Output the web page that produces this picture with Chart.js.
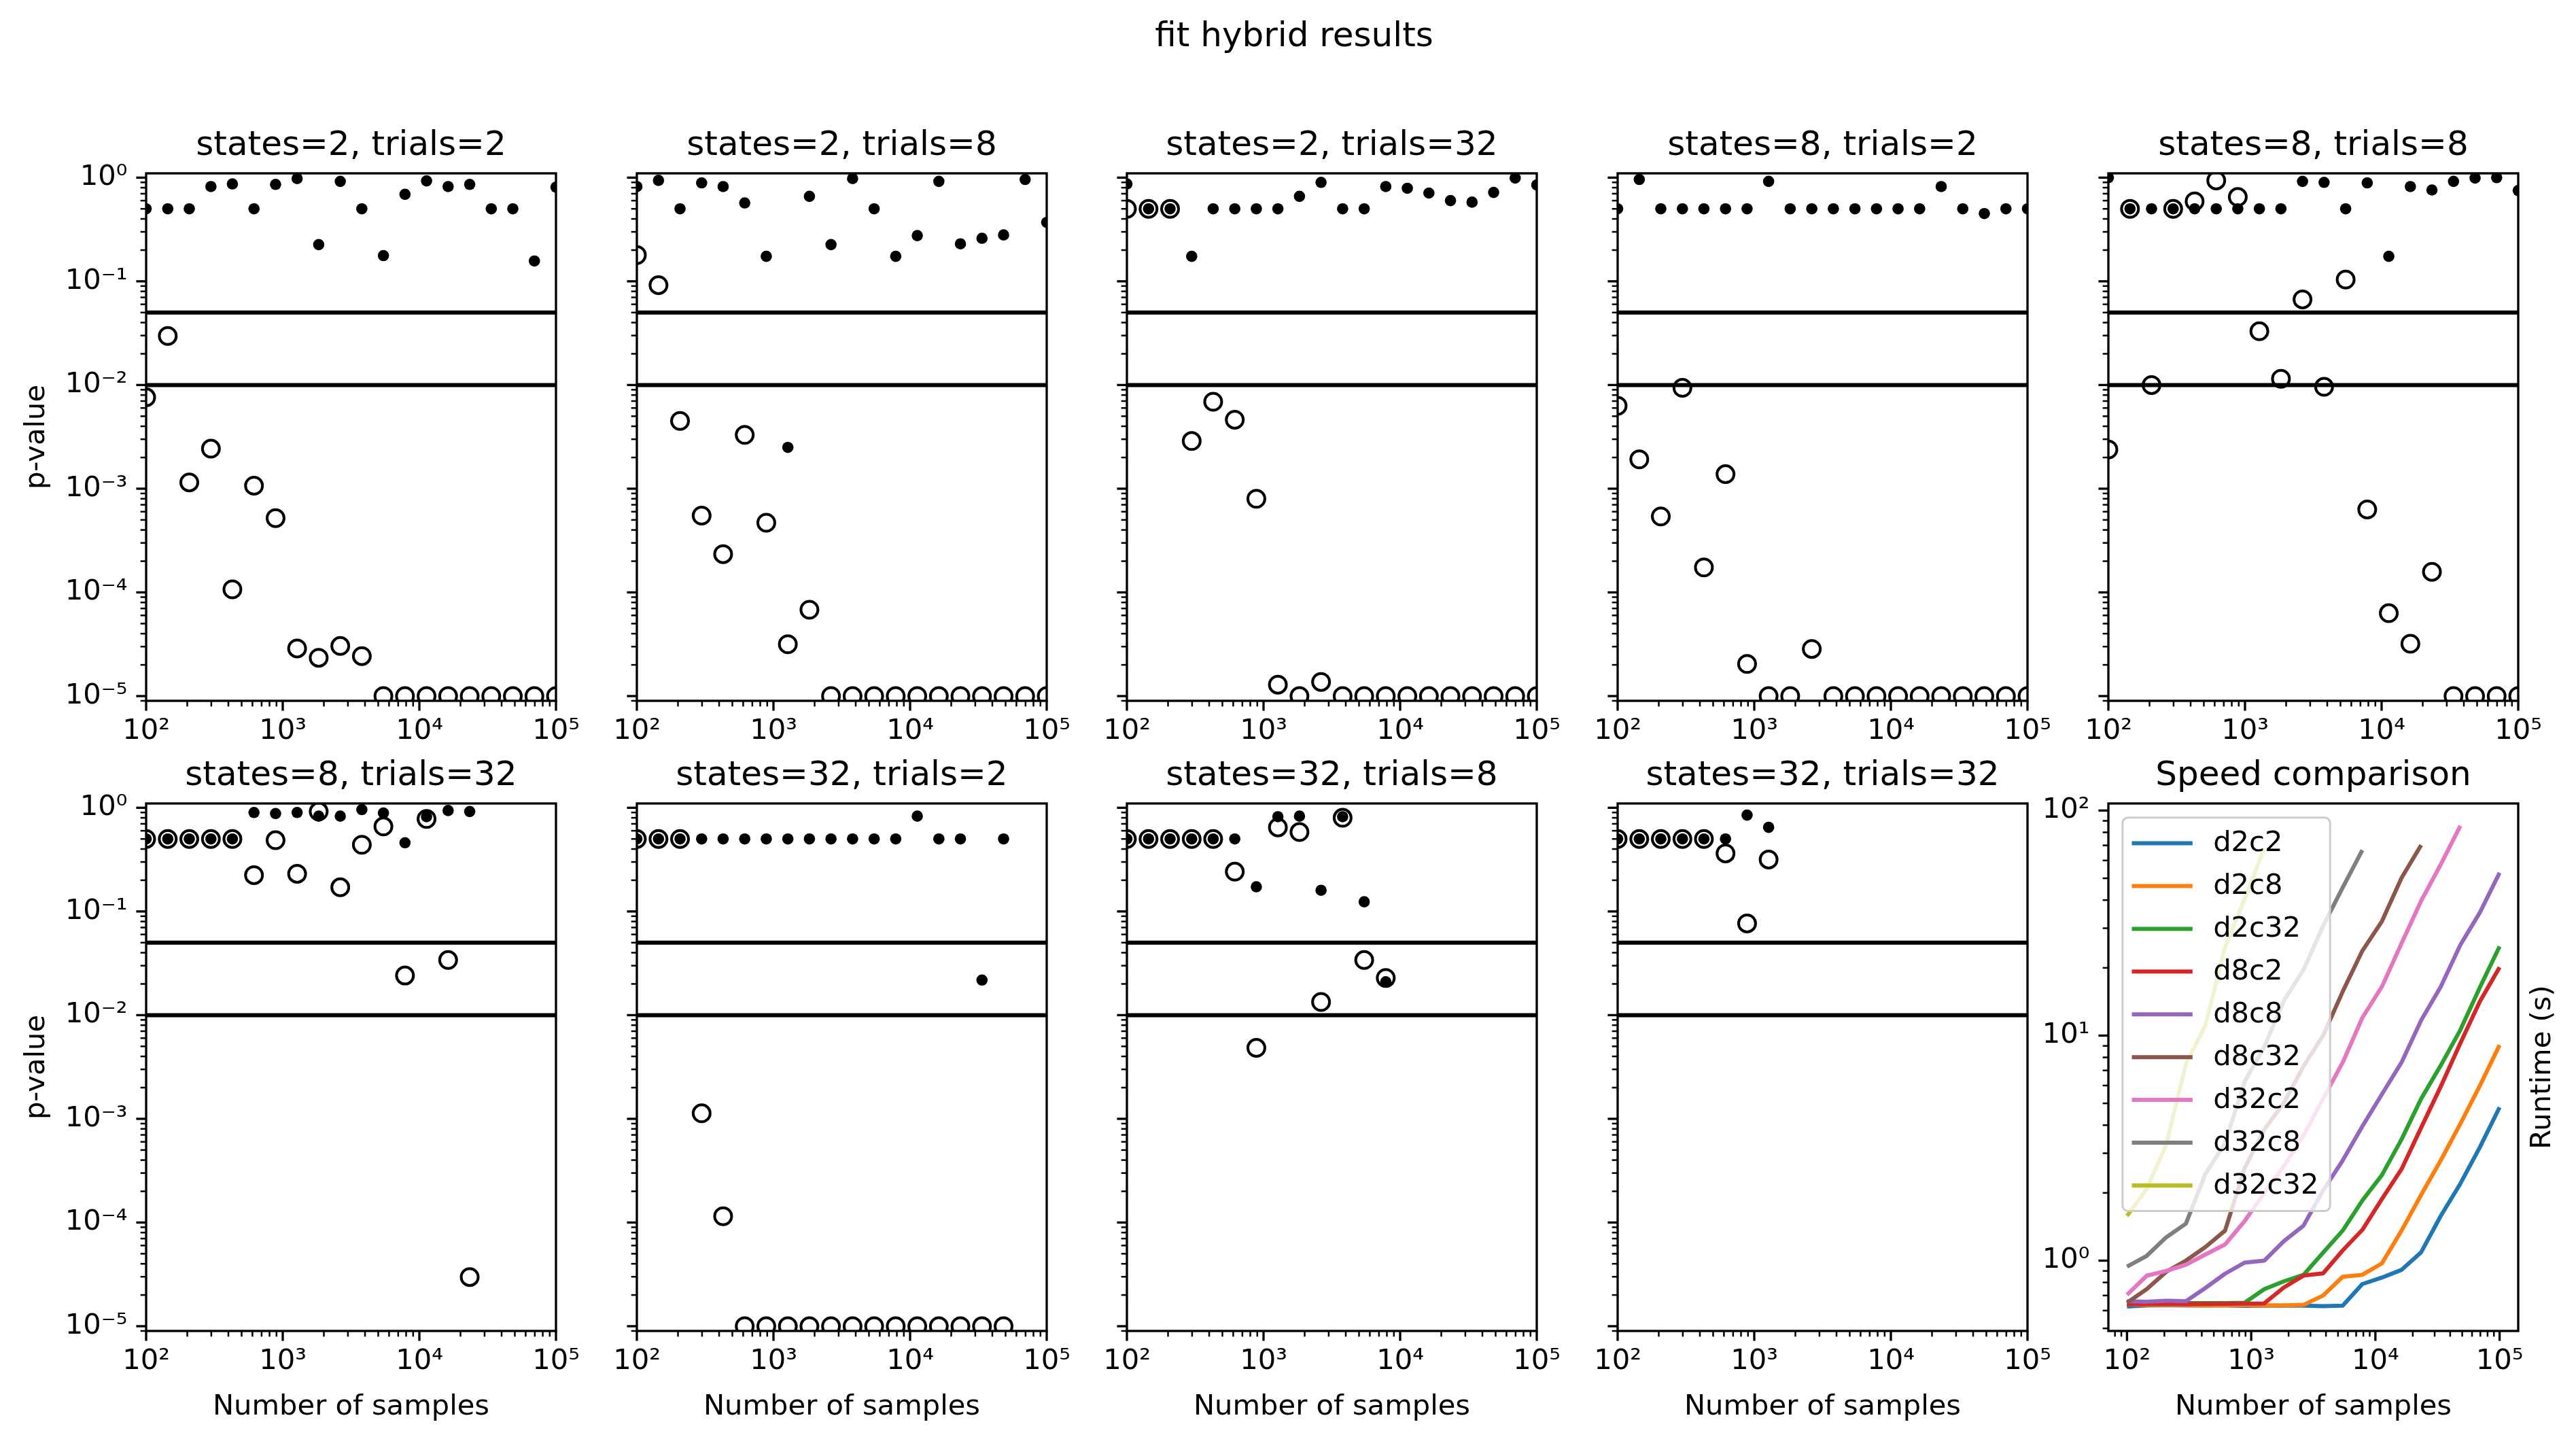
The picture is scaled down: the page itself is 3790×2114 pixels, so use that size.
<!DOCTYPE html>
<html>
<head>
<meta charset="utf-8">
<title>fit hybrid results</title>
<script src="https://cdn.jsdelivr.net/npm/chart.js"></script>
<style>
  html, body { margin: 0; padding: 0; background: #fff; }
  #figure { position: relative; width: 3790px; height: 2114px; overflow: hidden; background: #fff; }
  #figure canvas { position: absolute; }
  #suptitle { position: absolute; left: 1904px; top: 26px; transform: translateX(-50%);
              font: 50px/1 'DejaVu Sans', sans-serif; color: #000; white-space: nowrap; }
</style>
</head>
<body>
<div id="figure">
  <div id="suptitle">fit hybrid results</div>
</div>
<script>
// sample sizes shared by every panel
const samples = [100, 144, 207, 298, 428, 616, 886, 1274, 1833, 2637, 3793, 5456, 7848, 11288, 16238, 23357, 33598, 48329, 69519, 100000];
const sampleRange = [100, 100000];
const thresholds = [0.05, 0.01];

const pTicks = [1e-5, 1e-4, 1e-3, 1e-2, 1e-1, 1];
const pTickLabels = ['10⁻⁵', '10⁻⁴', '10⁻³', '10⁻²', '10⁻¹', '10⁰'];
const sampleTicks = [1e2, 1e3, 1e4, 1e5];
const sampleTickLabels = ['10²', '10³', '10⁴', '10⁵'];
const runtimeTicks = [1, 10, 100];
const runtimeTickLabels = ['10⁰', '10¹', '10²'];

const panelTitles = ['states=2, trials=2', 'states=2, trials=8', 'states=2, trials=32', 'states=8, trials=2', 'states=8, trials=8',
                     'states=8, trials=32', 'states=32, trials=2', 'states=32, trials=8', 'states=32, trials=32'];

// filled dots and open rings: p-values of the two tests
const dots_s2_t2 = [0.50, 0.50, 0.50, 0.82, 0.87, 0.50, 0.86, 0.98, 0.226, 0.92, 0.50, 0.177, 0.69, 0.93, 0.82, 0.86, 0.50, 0.50, 0.157, 0.81];
const rings_s2_t2 = [0.0076, 0.0297, 0.00115, 0.00243, 0.000107, 0.00107, 0.00052, 2.88e-5, 2.34e-5, 3.04e-5, 2.43e-5, 1e-5, 1e-5, 1e-5, 1e-5, 1e-5, 1e-5, 1e-5, 1e-5, 1e-5];

const dots_s2_t8 = [0.82, 0.94, 0.50, 0.89, 0.82, 0.57, 0.174, 0.0025, 0.66, 0.226, 0.98, 0.50, 0.174, 0.276, 0.92, 0.23, 0.26, 0.28, 0.96, 0.37];
const rings_s2_t8 = [0.179, 0.092, 0.0045, 0.00055, 0.000234, 0.0033, 0.00047, 3.16e-5, 6.8e-5, 1e-5, 1e-5, 1e-5, 1e-5, 1e-5, 1e-5, 1e-5, 1e-5, 1e-5, 1e-5, 1e-5];

const dots_s2_t32 = [0.87, 0.50, 0.50, 0.174, 0.50, 0.50, 0.50, 0.50, 0.66, 0.90, 0.50, 0.50, 0.82, 0.79, 0.71, 0.60, 0.58, 0.72, 0.99, 0.85];
const rings_s2_t32 = [0.50, 0.50, 0.50, 0.00288, 0.0069, 0.00463, 0.0008, 1.29e-5, 1e-5, 1.37e-5, 1e-5, 1e-5, 1e-5, 1e-5, 1e-5, 1e-5, 1e-5, 1e-5, 1e-5, 1e-5];

const dots_s8_t2 = [0.50, 0.96, 0.50, 0.50, 0.50, 0.50, 0.50, 0.92, 0.50, 0.50, 0.50, 0.50, 0.50, 0.50, 0.50, 0.82, 0.50, 0.45, 0.50, 0.50];
const rings_s8_t2 = [0.0063, 0.00192, 0.00054, 0.0094, 0.000174, 0.00138, 2.04e-5, 1e-5, 1e-5, 2.85e-5, 1e-5, 1e-5, 1e-5, 1e-5, 1e-5, 1e-5, 1e-5, 1e-5, 1e-5, 1e-5];

const dots_s8_t8 = [1.0, 0.50, 0.50, 0.50, 0.50, 0.50, 0.50, 0.50, 0.50, 0.92, 0.90, 0.50, 0.89, 0.174, 0.82, 0.76, 0.92, 0.99, 1.0, 0.75];
const rings_s8_t8 = [0.00239, 0.50, 0.0100, 0.50, 0.59, 0.94, 0.65, 0.033, 0.0115, 0.067, 0.0096, 0.104, 0.00063, 6.3e-5, 3.2e-5, 0.000158, 1e-5, 1e-5, 1e-5, 1e-5];

const dots_s8_t32 = [0.50, 0.50, 0.50, 0.50, 0.50, 0.90, 0.88, 0.90, 0.83, 0.83, 0.96, 0.89, 0.46, 0.82, 0.94, 0.92];
const rings_s8_t32 = [0.50, 0.50, 0.50, 0.50, 0.50, 0.224, 0.486, 0.231, 0.92, 0.171, 0.44, 0.66, 0.0241, 0.78, 0.034, 2.98e-5];

const dots_s32_t2 = [0.50, 0.50, 0.50, 0.50, 0.50, 0.50, 0.50, 0.50, 0.50, 0.50, 0.50, 0.50, 0.50, 0.83, 0.50, 0.50, 0.0218, 0.50];
const rings_s32_t2 = [0.50, 0.50, 0.50, 0.00113, 0.000115, 1e-5, 1e-5, 1e-5, 1e-5, 1e-5, 1e-5, 1e-5, 1e-5, 1e-5, 1e-5, 1e-5, 1e-5, 1e-5];

const dots_s32_t8 = [0.50, 0.50, 0.50, 0.50, 0.50, 0.50, 0.173, 0.82, 0.83, 0.16, 0.82, 0.124, 0.021];
const rings_s32_t8 = [0.50, 0.50, 0.50, 0.50, 0.50, 0.242, 0.00483, 0.647, 0.583, 0.0134, 0.80, 0.034, 0.0228];

const dots_s32_t32 = [0.50, 0.50, 0.50, 0.50, 0.50, 0.50, 0.85, 0.647];
const rings_s32_t32 = [0.50, 0.50, 0.50, 0.50, 0.50, 0.363, 0.0767, 0.317];

// runtimes in seconds for the speed comparison
const speedLabels = ['d2c2', 'd2c8', 'd2c32', 'd8c2', 'd8c8', 'd8c32', 'd32c2', 'd32c8', 'd32c32'];
const speedColors = ['#1f77b4', '#ff7f0e', '#2ca02c', '#d62728', '#9467bd', '#8c564b', '#e377c2', '#7f7f7f', '#bcbd22'];
const runtime_d2c2 = [0.626, 0.632, 0.634, 0.632, 0.632, 0.632, 0.630, 0.631, 0.631, 0.631, 0.628, 0.631, 0.787, 0.841, 0.91, 1.09, 1.58, 2.2, 3.2, 4.8];
const runtime_d2c8 = [0.640, 0.635, 0.636, 0.635, 0.633, 0.634, 0.634, 0.633, 0.632, 0.636, 0.70, 0.848, 0.865, 0.973, 1.36, 1.96, 2.79, 4.06, 6.0, 9.08];
const runtime_d2c32 = [0.648, 0.648, 0.648, 0.648, 0.648, 0.648, 0.650, 0.747, 0.809, 0.865, 1.086, 1.36, 1.85, 2.4, 3.46, 5.24, 7.37, 10.6, 16.4, 24.9];
const runtime_d8c2 = [0.640, 0.641, 0.643, 0.641, 0.642, 0.643, 0.644, 0.646, 0.76, 0.858, 0.878, 1.11, 1.37, 1.88, 2.55, 3.9, 5.94, 9.26, 14.2, 20.1];
const runtime_d8c8 = [0.660, 0.657, 0.664, 0.660, 0.756, 0.875, 0.98, 1.0, 1.22, 1.43, 2.05, 2.79, 3.95, 5.49, 7.6, 11.7, 16.5, 25.3, 35.3, 52.9];
const runtime_d8c32 = [0.650, 0.747, 0.892, 1.0, 1.15, 1.36, 2.58, 3.82, 5.03, 7.31, 10.0, 15.7, 23.8, 32.2, 50.2, 70.2];
const runtime_d32c2 = [0.705, 0.857, 0.90, 0.958, 1.065, 1.18, 1.5, 2.0, 2.63, 3.6, 5.24, 7.6, 12.0, 16.5, 25.7, 39.7, 57.6, 85.5];
const runtime_d32c8 = [0.94, 1.05, 1.27, 1.46, 2.43, 3.33, 6.25, 8.91, 14.3, 19.6, 30.7, 45.5, 66.7];
const runtime_d32c32 = [1.58, 2.08, 3.27, 7.46, 11.1, 24.8, 40.5, 68.0];

const PT = 300 / 72;   // pixels per point
const FONT = "'DejaVu Sans', sans-serif";
const colLeft = [215, 937, 1658, 2380, 3102];
const rowTop = [255, 1182];
const AX_W = 603, AX_H = 776;
const LEFT_ROOM = 200, TOP_ROOM = 110;

Chart.defaults.font.family = FONT;
Chart.defaults.color = '#000';

function drawLogTicks(ctx, scale, area, axis) {
    const lo = Math.floor(Math.log10(scale.min));
    const hi = Math.ceil(Math.log10(scale.max));
    for (let e = lo; e <= hi; e++) {
        for (let m = 1; m < 10; m++) {
            const v = m * Math.pow(10, e);
            if (v < scale.min * 0.999999 || v > scale.max * 1.000001) continue;
            const major = m === 1;
            const len = (major ? 3.5 : 2) * PT;
            ctx.lineWidth = (major ? 0.8 : 0.6) * PT;
            const p = scale.getPixelForValue(v);
            ctx.beginPath();
            if (axis === 'x') {
                ctx.moveTo(p, area.bottom);
                ctx.lineTo(p, area.bottom + len);
            } else {
                ctx.moveTo(area.left, p);
                ctx.lineTo(area.left - len, p);
            }
            ctx.stroke();
        }
    }
}

function drawLegend(chart) {
    const { ctx, chartArea: a } = chart;
    const fs = 10 * PT;
    const pad = 0.4 * fs, handle = 2 * fs, gap = 0.8 * fs, rowH = 1.01 * fs, spacing = 0.5 * fs;
    const sets = chart.data.datasets;
    ctx.font = fs + 'px ' + FONT;
    let textW = 0;
    sets.forEach(ds => { textW = Math.max(textW, ctx.measureText(ds.label).width); });
    const x0 = a.left + 0.5 * fs, y0 = a.top + 0.5 * fs;
    const w = 2 * pad + handle + gap + textW;
    const h = 2 * pad + sets.length * rowH + (sets.length - 1) * spacing;

    ctx.beginPath();
    ctx.roundRect(x0, y0, w, h, 8);
    ctx.fillStyle = 'rgba(255,255,255,0.8)';
    ctx.fill();
    ctx.lineWidth = 3;
    ctx.strokeStyle = '#cccccc';
    ctx.stroke();

    ctx.textAlign = 'left';
    ctx.textBaseline = 'middle';
    sets.forEach((ds, i) => {
        const cy = y0 + pad + rowH / 2 + i * (rowH + spacing);
        ctx.beginPath();
        ctx.lineCap = 'square';
        ctx.lineWidth = ds.borderWidth;
        ctx.strokeStyle = ds.borderColor;
        ctx.moveTo(x0 + pad, cy);
        ctx.lineTo(x0 + pad + handle, cy);
        ctx.stroke();
        ctx.fillStyle = '#000';
        ctx.fillText(ds.label, x0 + pad + handle + gap, cy + 1);
    });
}

// matplotlib style frame, outward log ticks, optional right label and legend
const mplAxes = {
    id: 'mplAxes',
    afterDatasetsDraw(chart, args, opts) {
        const { ctx, chartArea: a } = chart;
        ctx.save();
        ctx.strokeStyle = '#000';
        ctx.lineCap = 'butt';
        drawLogTicks(ctx, chart.scales.x, a, 'x');
        drawLogTicks(ctx, chart.scales.y, a, 'y');
        ctx.lineWidth = 0.8 * PT;
        ctx.strokeRect(a.left, a.top, a.right - a.left, a.bottom - a.top);
        if (opts && opts.rightTitle) {
            ctx.save();
            ctx.translate(a.right + 36, (a.top + a.bottom) / 2);
            ctx.rotate(-Math.PI / 2);
            ctx.font = (10 * PT) + 'px ' + FONT;
            ctx.fillStyle = '#000';
            ctx.textAlign = 'center';
            ctx.textBaseline = 'middle';
            ctx.fillText(opts.rightTitle, 0, 0);
            ctx.restore();
        }
        if (opts && opts.legend) drawLegend(chart);
        ctx.restore();
    }
};
Chart.register(mplAxes);

function addCanvas(left, top, width, height) {
    const c = document.createElement('canvas');
    c.width = width;
    c.height = height;
    c.style.left = left + 'px';
    c.style.top = top + 'px';
    c.style.width = width + 'px';
    c.style.height = height + 'px';
    document.getElementById('figure').appendChild(c);
    return c.getContext('2d');
}

function logAxis(tickValues, tickLabels, o) {
    const vertical = !!o.width;
    return {
        type: 'logarithmic',
        position: vertical ? 'left' : 'bottom',
        min: o.min,
        max: o.max,
        border: { display: false },
        grid: { display: false, drawTicks: true, tickLength: 3.5 * PT },
        ticks: {
            display: o.labels,
            color: '#000',
            font: { family: FONT, size: 10 * PT },
            padding: vertical ? 13 : 6,
            autoSkip: false,
            maxRotation: 0,
            minRotation: 0,
            callback: (value, index) => tickLabels[index]
        },
        title: {
            display: !!o.title,
            text: o.title || '',
            color: '#000',
            font: { family: FONT, size: 10 * PT },
            padding: vertical ? { top: 14, bottom: 0 } : { top: 0, bottom: 13 }
        },
        afterBuildTicks: (scale) => { scale.ticks = tickValues.map(v => ({ value: v })); },
        afterFit: (scale) => {
            if (vertical) scale.width = o.width;
            else scale.height = o.height;
        }
    };
}

function baseOptions(title, scales, rightPad, axesOpts) {
    return {
        responsive: false,
        animation: false,
        events: [],
        layout: { padding: { left: 0, right: rightPad, top: 0, bottom: 0 } },
        scales: scales,
        plugins: {
            legend: { display: false },
            tooltip: { enabled: false },
            title: {
                display: true,
                text: title,
                color: '#000',
                fullSize: false,
                font: { family: FONT, size: 12 * PT, weight: 'normal', lineHeight: 1.2 },
                padding: { top: 40, bottom: 10 }
            },
            mplAxes: axesOpts
        }
    };
}

function pairs(values) {
    return values.map((v, i) => ({ x: samples[i], y: v }));
}

function buildPvaluePanel(title, dots, rings, row, col) {
    const bottomRow = row === 1;
    const xRoom = bottomRow ? 150 : 100;
    const rightPad = 60;
    const ctx = addCanvas(colLeft[col] - LEFT_ROOM, rowTop[row] - TOP_ROOM,
                          LEFT_ROOM + AX_W + rightPad, TOP_ROOM + AX_H + xRoom);
    const datasets = [
        { data: pairs(dots), pointRadius: 8.3, pointBorderWidth: 0, pointBackgroundColor: '#000', clip: 0, order: 0 },
        { data: pairs(rings), pointRadius: 12.5, pointBorderWidth: 4, pointBorderColor: '#000',
          pointBackgroundColor: 'rgba(0,0,0,0)', clip: 0, order: 1 }
    ];
    thresholds.forEach(t => {
        datasets.push({
            data: [{ x: sampleRange[0], y: t }, { x: sampleRange[1], y: t }],
            showLine: true, pointRadius: 0, borderColor: '#000', borderWidth: 6, clip: 0, order: 2
        });
    });
    new Chart(ctx, {
        type: 'scatter',
        data: { datasets: datasets },
        options: baseOptions(title, {
            x: logAxis(sampleTicks, sampleTickLabels, { min: 100, max: 100000, height: xRoom, labels: true,
                                                        title: bottomRow ? 'Number of samples' : null }),
            y: logAxis(pTicks, pTickLabels, { min: 0.9e-5, max: 1.1, width: LEFT_ROOM, labels: col === 0,
                                              title: col === 0 ? 'p-value' : null })
        }, rightPad, {})
    });
}

function buildSpeedPanel(row, col) {
    const runtimes = [runtime_d2c2, runtime_d2c8, runtime_d2c32, runtime_d8c2, runtime_d8c8,
                      runtime_d8c32, runtime_d32c2, runtime_d32c8, runtime_d32c32];
    const xRoom = 150;
    const left = colLeft[col] - LEFT_ROOM;
    const width = 3790 - left;
    const rightPad = width - LEFT_ROOM - AX_W;
    const ctx = addCanvas(left, rowTop[row] - TOP_ROOM, width, TOP_ROOM + AX_H + xRoom);
    const datasets = runtimes.map((vals, i) => ({
        label: speedLabels[i],
        data: pairs(vals),
        showLine: true,
        pointRadius: 0,
        borderColor: speedColors[i],
        borderWidth: 6,
        borderJoinStyle: 'round',
        clip: 0,
        order: speedLabels.length - i
    }));
    new Chart(ctx, {
        type: 'scatter',
        data: { datasets: datasets },
        options: baseOptions('Speed comparison', {
            x: logAxis(sampleTicks, sampleTickLabels, { min: 70.8, max: 141254, height: xRoom, labels: true,
                                                        title: 'Number of samples' }),
            y: logAxis(runtimeTicks, runtimeTickLabels, { min: 0.487, max: 107.5, width: LEFT_ROOM, labels: true,
                                                          title: null })
        }, rightPad, { rightTitle: 'Runtime (s)', legend: true })
    });
}

const panelData = [
    [dots_s2_t2, rings_s2_t2], [dots_s2_t8, rings_s2_t8], [dots_s2_t32, rings_s2_t32],
    [dots_s8_t2, rings_s8_t2], [dots_s8_t8, rings_s8_t8], [dots_s8_t32, rings_s8_t32],
    [dots_s32_t2, rings_s32_t2], [dots_s32_t8, rings_s32_t8], [dots_s32_t32, rings_s32_t32]
];

panelData.forEach((pd, k) => {
    buildPvaluePanel(panelTitles[k], pd[0], pd[1], Math.floor(k / 5), k % 5);
});
buildSpeedPanel(1, 4);
</script>
</body>
</html>
